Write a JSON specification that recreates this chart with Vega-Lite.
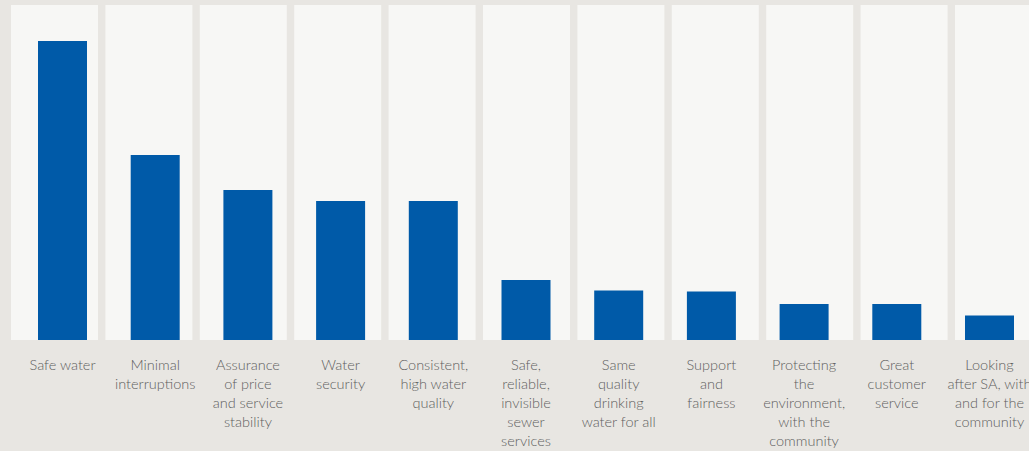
{
  "$schema": "https://vega.github.io/schema/vega-lite/v6.json",
  "autosize": "none",
  "width": 1029,
  "height": 335,
  "padding": {"left": 0, "right": 0, "top": 5, "bottom": 111},
  "background": "#e8e6e2",
  "config": {"view": {"stroke": null}},
  "data": {
    "values": [
      {"category": "Safe water", "value": 25.0},
      {"category": "Minimal\ninterruptions", "value": 15.47},
      {"category": "Assurance\nof price\nand service\nstability", "value": 12.54},
      {"category": "Water\nsecurity", "value": 11.62},
      {"category": "Consistent,\nhigh water\nquality", "value": 11.62},
      {"category": "Safe,\nreliable,\ninvisible\nsewer\nservices", "value": 5.02},
      {"category": "Same\nquality\ndrinking\nwater for all", "value": 4.14},
      {"category": "Support\nand\nfairness", "value": 4.05},
      {"category": "Protecting\nthe\nenvironment,\nwith the\ncommunity", "value": 3.01},
      {"category": "Great\ncustomer\nservice", "value": 3.01},
      {"category": "Looking\nafter SA, with\nand for the\ncommunity", "value": 2.05}
    ]
  },
  "layer": [
    {
      "mark": {"type": "bar", "color": "#f7f7f5"},
      "encoding": {
        "x": {"field": "category", "type": "nominal", "sort": null,
              "scale": {"range": [11, 1042], "paddingInner": 0.0784, "paddingOuter": 0},
              "axis": null},
        "y": {"datum": 28, "type": "quantitative", "scale": {"domain": [0, 28]}, "axis": null}
      }
    },
    {
      "mark": {"type": "bar", "color": "#005aa8"},
      "encoding": {
        "x": {"field": "category", "type": "nominal", "sort": null,
              "scale": {"range": [38, 1014], "paddingInner": 0.4714, "paddingOuter": 0},
              "axis": {
                "title": null, "ticks": false, "domain": false, "grid": false,
                "labelAngle": 0, "labelExpr": "split(datum.label, '\\n')",
                "labelFont": "Lato", "labelFontSize": 14.5, "labelFontWeight": 300, "labelColor": "#5e5e5e",
                "labelLineHeight": 19, "labelPadding": 18, "labelBaseline": "top",
                "labelOverlap": false, "labelAlign": "center", "labelLimit": 0, "labelFlush": false
              }},
        "y": {"field": "value", "type": "quantitative", "scale": {"domain": [0, 28]}, "axis": null}
      }
    }
  ],
  "resolve": {"scale": {"x": "independent"}}
}
